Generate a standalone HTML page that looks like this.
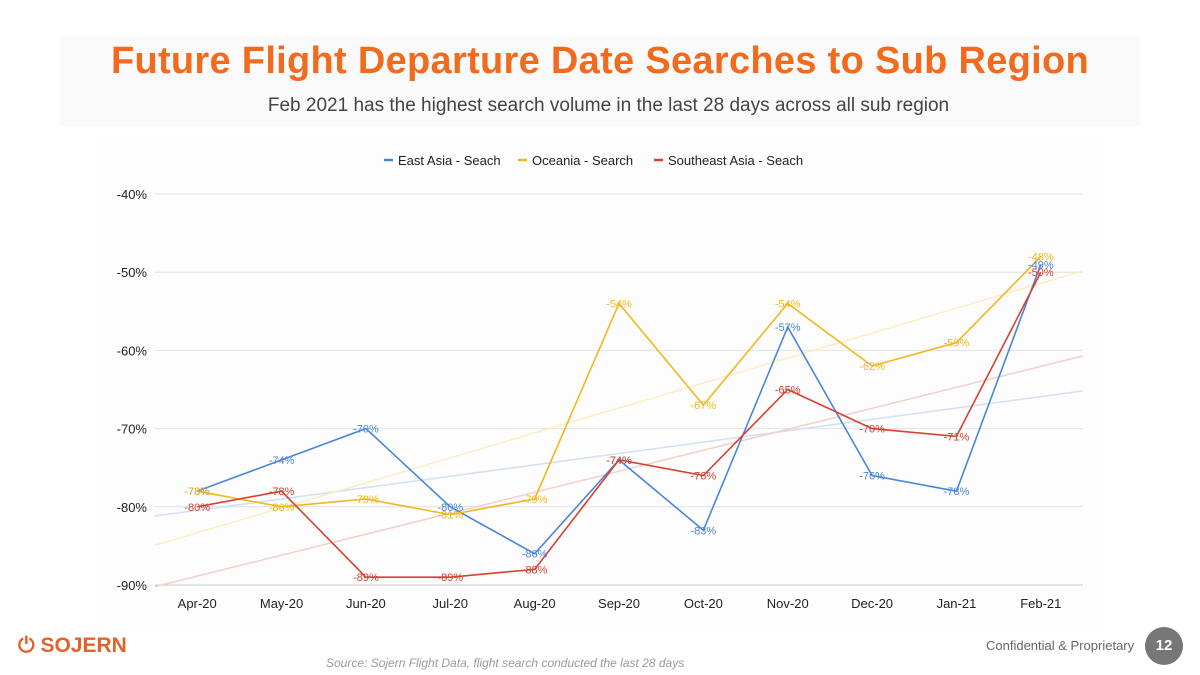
<!DOCTYPE html>
<html><head><meta charset="utf-8"><style>
body{margin:0;width:1200px;height:675px;background:#fff;font-family:"Liberation Sans",sans-serif;position:relative;overflow:hidden}
.t{position:absolute;left:60px;top:36px;width:1080px;height:90px;background:#fafafa}
h1{position:absolute;top:40px;left:0;width:1200px;margin:0;text-align:center;color:#f26b1d;font-size:38px;font-weight:bold;letter-spacing:0.3px}
.sub{position:absolute;top:95px;left:0;width:1217px;text-align:center;color:#444;font-size:19px}
.cb{position:absolute;left:95px;top:138px;width:1010px;height:492px;background:#fdfdfd}
svg{position:absolute;left:0;top:0}
.logo{position:absolute;left:18px;top:634px;color:#e2622a;font-weight:bold;font-size:21px}
.src{position:absolute;left:326px;top:656px;color:#999;font-style:italic;font-size:12px}
.conf{position:absolute;left:986px;top:638px;color:#666;font-size:13px}
.pg{position:absolute;left:1145px;top:627px;width:38px;height:38px;border-radius:50%;background:#777;color:#fff;font-weight:bold;font-size:15px;text-align:center;line-height:38px}
</style></head><body>
<div class="t"></div>
<h1>Future Flight Departure Date Searches to Sub Region</h1>
<div class="sub">Feb 2021 has the highest search volume in the last 28 days across all sub region</div>
<div class="cb"></div>
<svg id="c" width="1200" height="675"></svg>
<div class="logo">⏻ SOJERN</div>
<div class="src">Source: Sojern Flight Data, flight search conducted the last 28 days</div>
<div class="conf">Confidential &amp; Proprietary</div>
<div class="pg">12</div>
<script>
const categories=["Apr-20","May-20","Jun-20","Jul-20","Aug-20","Sep-20","Oct-20","Nov-20","Dec-20","Jan-21","Feb-21"];
const eastAsia=[-78,-74,-70,-80,-86,-74,-83,-57,-76,-78,-49];
const oceania=[-78,-80,-79,-81,-79,-54,-67,-54,-62,-59,-48];
const seAsia=[-80,-78,-89,-89,-88,-74,-76,-65,-70,-71,-50];
const yTicks=[-40,-50,-60,-70,-80,-90];
const seriesNames=["East Asia - Seach","Oceania - Search","Southeast Asia - Seach"];
const colors=["#4a86d8","#f0b81c","#d8402f"];
const trendColors=["#d2e0f4","#fbeec0","#f4cfcb"];
const svg=document.getElementById('c');const NS="http://www.w3.org/2000/svg";
const X0=155,X1=1083;
const step=(X1-X0)/categories.length;
const x=i=>X0+step*(i+0.5);
const y=v=>194+(-40-v)*7.82;
function mk(t,a){const e=document.createElementNS(NS,t);for(const k in a)e.setAttribute(k,a[k]);svg.appendChild(e);return e;}
yTicks.forEach(v=>{
 const l=mk('line',{x1:X0,x2:X1,y1:y(v),y2:y(v),stroke:v==-90?'#ccc':'#e2e2e2','stroke-width':1});
 
 
 const t=mk('text',{x:147,y:y(v)+5,'text-anchor':'end','font-size':13,fill:'#222'});t.textContent=v+'%';
 
 
});
categories.forEach((c,i)=>{const t=mk('text',{x:x(i),y:608,'text-anchor':'middle','font-size':13,fill:'#222'});t.textContent=c;
 
 });
const all=[eastAsia,oceania,seAsia];
all.forEach((d,s)=>{const n=d.length;let sx=0,sy=0,sxy=0,sxx=0;d.forEach((v,i)=>{sx+=i;sy+=v;sxy+=i*v;sxx+=i*i});
 const b=(n*sxy-sx*sy)/(n*sxx-sx*sx),a=(sy-b*sx)/n;const i0=-0.5,i1=n-0.5;
 const l=mk('line',{x1:X0,y1:y(a+b*i0),x2:X1,y2:y(a+b*i1),stroke:trendColors[s],'stroke-width':1.5});
 
 });
all.forEach((d,s)=>{const p=mk('polyline',{points:d.map((v,i)=>x(i)+','+y(v)).join(' '),fill:'none',stroke:colors[s],'stroke-width':1.6});
 
 });
all.forEach((d,s)=>d.forEach((v,i)=>{const t=mk('text',{x:x(i),y:y(v)+4,'text-anchor':'middle','font-size':11,fill:colors[s]});t.textContent=v+'%';
 
 }));
const lx=[384,518,654];
seriesNames.forEach((n,s)=>{const l=mk('line',{x1:lx[s],x2:lx[s]+9,y1:160,y2:160,stroke:colors[s],'stroke-width':2.5});
 
 
 const t=mk('text',{x:lx[s]+14,y:165,'font-size':13,fill:'#222'});t.textContent=n;
 
 });
</script>
</body></html>
